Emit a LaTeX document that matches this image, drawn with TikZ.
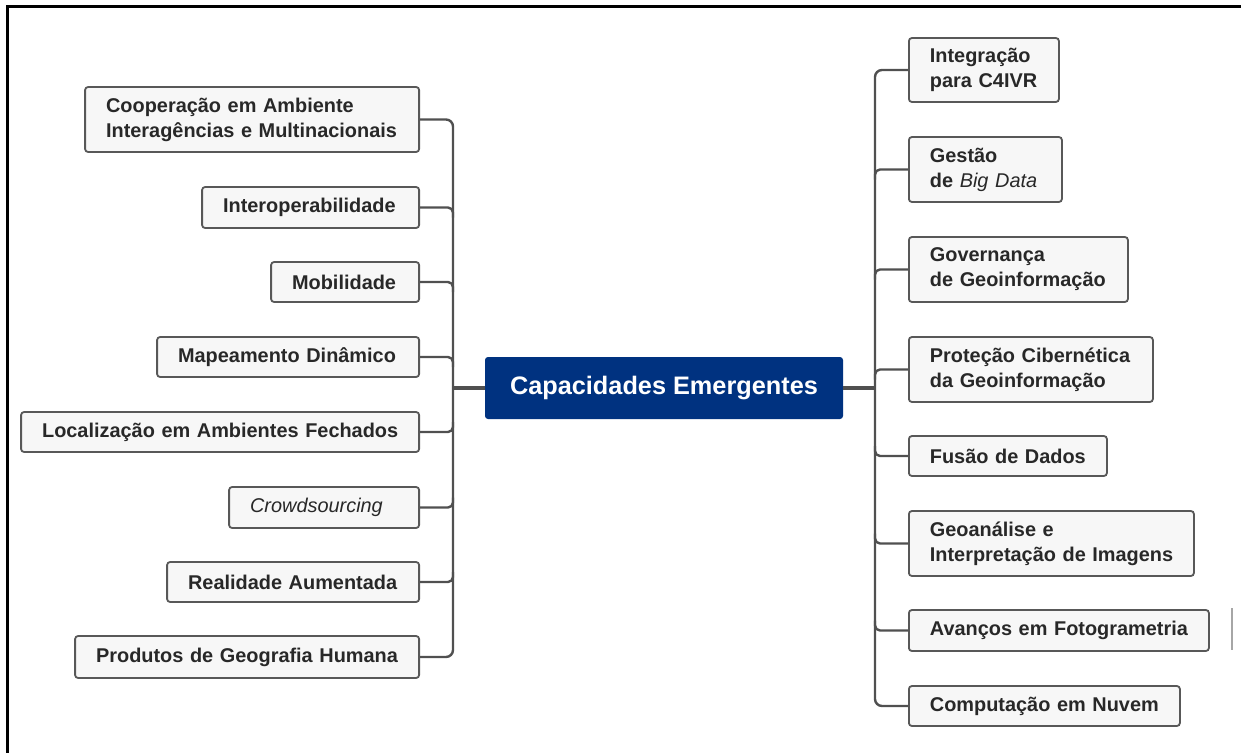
\documentclass[tikz,border=0pt]{standalone}
\usepackage{fontspec}
\setmainfont{Liberation Sans}
\definecolor{boxedge}{RGB}{88,88,88}
\definecolor{boxfill}{RGB}{247,247,247}
\definecolor{textgray}{RGB}{40,40,40}
\definecolor{hubblue}{RGB}{0,50,128}
\definecolor{wire}{RGB}{80,80,80}
\begin{document}
\begin{tikzpicture}[x=1pt,y=-1pt,
  leaf/.style 2 args={draw=boxedge, fill=boxfill, line width=1.8pt,
    rounded corners=3pt, inner xsep=21pt, inner ysep=0pt,
    align=left, text=textgray, text width=#1, minimum height=#2,
    font=\fontsize{19.9}{25}\selectfont\bfseries},
  hub/.style={fill=hubblue, rounded corners=3pt, inner sep=0pt,
    minimum width=358pt, minimum height=62pt, text=white,
    font=\fontsize{25.3}{30}\selectfont\bfseries},
  branch/.style={draw=wire, line width=2.4pt},
  trunk/.style={draw=wire, line width=4pt},
]
\useasboundingbox (0,0) rectangle (1241,752);

% outer frame (top and left edges)
\draw[line width=3pt, line cap=rect] (7,752) -- (7,7) -- (1241,7);

% central topic
\node[hub] (hub) at (664,388) {Capacidades Emergentes};

% left-hand topics (right edges aligned)
\node[leaf={292pt}{65pt}, anchor=east] (coop)  at (420,119.5) {\mbox{Cooperação em Ambiente}\\\mbox{Interagências e Multinacionais}};
\node[leaf={175pt}{41pt}, anchor=east] (inter) at (420,207.5) {\mbox{Interoperabilidade}};
\node[leaf={106pt}{40pt}, anchor=east] (mob)   at (420,282)   {\mbox{Mobilidade}};
\node[leaf={220pt}{40pt}, anchor=east] (mapa)  at (420,357)   {\mbox{Mapeamento Dinâmico}};
\node[leaf={356pt}{40pt}, anchor=east] (local) at (420,432)   {\mbox{Localização em Ambientes Fechados}};
\node[leaf={148pt}{41pt}, anchor=east] (crowd) at (420,507.5) {\mbox{\mdseries\itshape Crowdsourcing}};
\node[leaf={210pt}{40pt}, anchor=east] (real)  at (420,582)   {\mbox{Realidade Aumentada}};
\node[leaf={302pt}{42pt}, anchor=east] (prod)  at (420,657)   {\mbox{Produtos de Geografia Humana}};

% right-hand topics (left edges aligned)
\node[leaf={108pt}{64pt}, anchor=west] (integ) at (908,70)    {\mbox{Integração}\\\mbox{para C4IVR}};
\node[leaf={111pt}{65pt}, anchor=west] (gest)  at (908,169.5) {\mbox{Gestão}\\\mbox{de {\mdseries\itshape Big Data}}};
\node[leaf={177pt}{65pt}, anchor=west] (gov)   at (908,269.5) {\mbox{Governança}\\\mbox{de Geoinformação}};
\node[leaf={202pt}{65pt}, anchor=west] (prot)  at (908,369.5) {\mbox{Proteção Cibernética}\\\mbox{da Geoinformação}};
\node[leaf={156pt}{40pt}, anchor=west] (fus)   at (908,456)   {\mbox{Fusão de Dados}};
\node[leaf={243pt}{65pt}, anchor=west] (geo)   at (908,543.5) {\mbox{Geoanálise e}\\\mbox{Interpretação de Imagens}};
\node[leaf={258pt}{41pt}, anchor=west] (avan)  at (908,630.5) {\mbox{Avanços em Fotogrametria}};
\node[leaf={229pt}{40pt}, anchor=west] (comp)  at (908,706)   {\mbox{Computação em Nuvem}};

% spine positions
\coordinate (ls) at (453,388);
\coordinate (rs) at (875,388);

% trunks from the central topic
\draw[trunk] (hub.west) -- (ls);
\draw[trunk] (hub.east) -- (rs);

% left spine and branches
\draw[branch, rounded corners=7pt] (coop.east) -- (coop.east -| ls) -- (prod.east -| ls) -- (prod.east);
\foreach \n in {inter,mob,mapa}
  \draw[branch, rounded corners=5pt] (\n.east) -- (\n.east -| ls) -- ++(0,10);
\foreach \n in {local,crowd,real}
  \draw[branch, rounded corners=5pt] (\n.east) -- (\n.east -| ls) -- ++(0,-10);

% right spine and branches
\draw[branch, rounded corners=7pt] (integ.west) -- (integ.west -| rs) -- (comp.west -| rs) -- (comp.west);
\foreach \n in {gest,gov,prot}
  \draw[branch, rounded corners=5pt] (\n.west) -- (\n.west -| rs) -- ++(0,10);
\foreach \n in {fus,geo,avan}
  \draw[branch, rounded corners=5pt] (\n.west) -- (\n.west -| rs) -- ++(0,-10);

% thin mark at the right margin
\draw[line width=1.2pt, black!35] (1232,608) -- (1232,650);
\end{tikzpicture}
\end{document}
